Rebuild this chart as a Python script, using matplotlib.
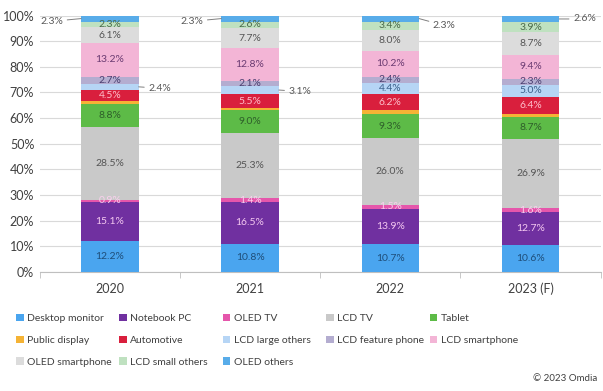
import numpy as np
import matplotlib
matplotlib.use("Agg")
import matplotlib.pyplot as plt
from matplotlib.patches import Patch

plt.rcParams['font.family'] = ['Lato', 'DejaVu Sans']

years = ["2020", "2021", "2022", "2023 (F)"]
segments = ["Desktop monitor", "Notebook PC", "OLED TV", "LCD TV", "Tablet",
            "Public display", "Automotive", "LCD large others", "LCD feature phone",
            "LCD smartphone", "OLED smartphone", "LCD small others", "OLED others"]

desktop_monitor = [12.2, 10.8, 10.7, 10.6]
notebook_pc = [15.1, 16.5, 13.9, 12.7]
oled_tv = [0.9, 1.4, 1.5, 1.6]
lcd_tv = [28.5, 25.3, 26.0, 26.9]
tablet = [8.8, 9.0, 9.3, 8.7]
public_display = [1.0, 0.9, 1.7, 1.2]
automotive = [4.5, 5.5, 6.2, 6.4]
lcd_large_others = [2.4, 3.1, 4.4, 5.0]
lcd_feature_phone = [2.7, 2.1, 2.4, 2.3]
lcd_smartphone = [13.2, 12.8, 10.2, 9.4]
oled_smartphone = [6.1, 7.7, 8.0, 8.7]
lcd_small_others = [2.3, 2.6, 3.4, 3.9]
oled_others = [2.3, 2.3, 2.3, 2.6]

values = [desktop_monitor, notebook_pc, oled_tv, lcd_tv, tablet, public_display,
          automotive, lcd_large_others, lcd_feature_phone, lcd_smartphone,
          oled_smartphone, lcd_small_others, oled_others]

colors = ["#4aa5ef", "#7030a0", "#e556ab", "#c9c9c9", "#5dbb47", "#f5b335",
          "#d91f3d", "#b6d5f5", "#b4add0", "#f3b5d6", "#dcdcdc", "#bfe1c0", "#58ace9"]
text_colors = ["#1f4e79", "#f4c8f0", "#fbd0ee", "#555555", "#2e5e2a", None,
               "#ffc0cc", "#3a5f8a", "#4a3f70", "#6b3b72", "#555555", "#4a6a4a", None]

fig = plt.figure(figsize=(6.03, 3.91), dpi=100)
ax = fig.add_axes([0.066, 0.305, 0.93, 0.655])

x = np.arange(len(years))
width = 0.41
line_kw = dict(arrowstyle="-", color="#7f7f7f", lw=0.7, shrinkA=1, shrinkB=0)
bottom = np.zeros(len(years))
for i, (name, vals) in enumerate(zip(segments, values)):
    vals = np.array(vals)
    ax.bar(x, vals, width, bottom=bottom, color=colors[i], label=name, zorder=3)
    for j, v in enumerate(vals):
        outside = (name == "OLED others") or (name == "LCD large others" and j < 2)
        if text_colors[i] is None and not outside:
            continue
        yc = bottom[j] + v / 2
        lbl = f"{v:.1f}%"
        if name == "OLED others" and j < 2:
            ax.annotate(lbl, xy=(x[j] - width / 2, yc), xytext=(-13, -2),
                        textcoords="offset points", ha="right", va="center",
                        fontsize=7.5, color="#595959", arrowprops=line_kw)
        elif name == "OLED others":
            dy = -5 if j == 2 else 0
            ax.annotate(lbl, xy=(x[j] + width / 2, yc), xytext=(10, dy),
                        textcoords="offset points", ha="left", va="center",
                        fontsize=7.5, color="#595959", arrowprops=line_kw)
        elif outside:
            ax.annotate(lbl, xy=(x[j] + width / 2, yc), xytext=(7, -1),
                        textcoords="offset points", ha="left", va="center",
                        fontsize=7.5, color="#595959", arrowprops=line_kw)
        else:
            ax.text(x[j], yc, lbl, ha="center", va="center",
                    fontsize=7.5, color=text_colors[i], zorder=4)
    bottom += vals

ax.set_ylim(0, 100)
ax.set_xlim(-0.5, len(years) - 0.5)
ax.set_yticks(np.arange(0, 101, 10))
ax.set_yticklabels([f"{t}%" for t in range(0, 101, 10)], fontsize=9, color="#404040")
ax.set_xticks(x)
ax.set_xticklabels(years, fontsize=9, color="#404040")
ax.tick_params(axis="y", length=0, pad=4)
ax.tick_params(axis="x", length=0, pad=8)
ax.set_xticks(np.arange(-0.5, len(years), 1.0), minor=True)
ax.tick_params(axis="x", which="minor", length=4, color="#bfbfbf")
ax.grid(axis="y", color="#d9d9d9", lw=0.8, zorder=0)
for s in ["top", "right", "left"]:
    ax.spines[s].set_visible(False)
ax.spines["bottom"].set_color("#bfbfbf")

# legend: one column per legend so the columns sit where the reference has them
handles = [Patch(facecolor=c, label=n) for n, c in zip(segments, colors)]
col_x = [0.015, 0.186, 0.357, 0.529, 0.701]
for k in range(5):
    fig.legend(handles=handles[k::5], loc="upper left", bbox_to_anchor=(col_x[k], 0.216),
               ncol=1, frameon=False, fontsize=7.5, handlelength=0.7, handleheight=0.7,
               handletextpad=0.35, labelspacing=1.2, borderpad=0.2,
               labelcolor="#404040")

fig.text(0.99, 0.02, "© 2023 Omdia", ha="right", va="bottom", fontsize=7, color="#404040")

fig.savefig("out.png", dpi=100)
